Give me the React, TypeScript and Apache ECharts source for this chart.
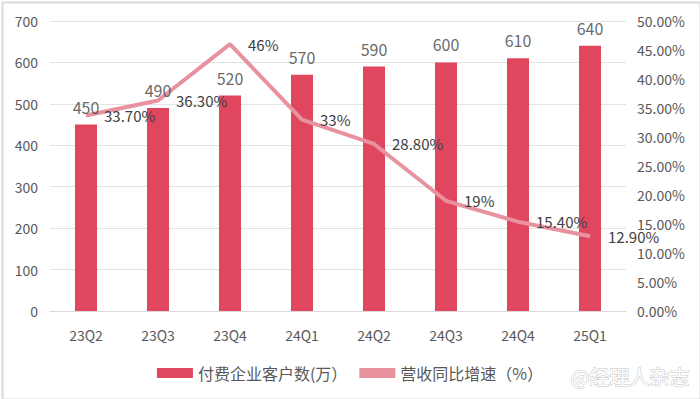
import React, { useEffect, useRef } from "react";
import * as echarts from "echarts";

const categories = ["23Q2", "23Q3", "23Q4", "24Q1", "24Q2", "24Q3", "24Q4", "25Q1"];
const customers = [450, 490, 520, 570, 590, 600, 610, 640];
const growth = [33.7, 36.3, 46, 33, 28.8, 19, 15.4, 12.9];
const barName = "付费企业客户数(万）";
const lineName = "营收同比增速（%）";

const FONT = "'Noto Sans CJK SC', 'Noto Sans', sans-serif";
const GRAY = "#595959";

export default function App() {
  const ref = useRef<HTMLDivElement>(null);
  useEffect(() => {
    const chart = echarts.init(ref.current!, null, { renderer: "svg" });
    chart.setOption({
      animation: false,
      backgroundColor: "#ffffff",
      textStyle: { fontFamily: FONT },
      grid: { left: 50, right: 74, top: 21, bottom: 88 },
      legend: {
        bottom: 13,
        left: "center",
        itemGap: 12,
        textStyle: { fontSize: 16, color: GRAY, fontFamily: FONT },
        data: [
          { name: barName, icon: "rect", itemWidth: 36, itemHeight: 10 },
          { name: lineName, icon: "rect", itemWidth: 38, itemHeight: 4 },
        ],
        itemWidth: 36,
        itemHeight: 10,
      },
      xAxis: {
        type: "category",
        data: categories,
        axisLine: { lineStyle: { color: "#d9d9d9", width: 1 } },
        axisTick: { show: false },
        axisLabel: { color: GRAY, fontSize: 14, margin: 17, fontFamily: FONT },
      },
      yAxis: [
        {
          type: "value",
          min: 0,
          max: 700,
          interval: 100,
          axisLine: { show: false },
          axisTick: { show: false },
          axisLabel: { color: GRAY, fontSize: 14, margin: 12, fontFamily: FONT },
          splitLine: { lineStyle: { color: "#e3e3e3", width: 1 } },
        },
        {
          type: "value",
          min: 0,
          max: 50,
          interval: 5,
          position: "right",
          axisLine: { show: false },
          axisTick: { show: false },
          splitLine: { show: false },
          axisLabel: {
            color: GRAY,
            fontSize: 14,
            margin: 11,
            fontFamily: FONT,
            formatter: (v: number) => v.toFixed(2) + "%",
          },
        },
      ],
      series: [
        {
          name: barName,
          type: "bar",
          data: customers,
          barWidth: 22,
          z: 2,
          itemStyle: { color: "#e0475e" },
        },
        {
          name: lineName,
          type: "line",
          yAxisIndex: 1,
          data: growth,
          z: 3,
          showSymbol: true,
          symbol: "circle",
          symbolSize: 0,
          lineStyle: { color: "#e8929f", width: 4 },
          itemStyle: { color: "#e8929f" },
          label: {
            show: true,
            position: "right",
            distance: 18,
            color: "#404040",
            fontSize: 15,
            fontFamily: FONT,
            formatter: (p: any) =>
              Number.isInteger(p.value) ? p.value + "%" : p.value.toFixed(2) + "%",
          },
        },
        {
          name: "barLabels",
          type: "scatter",
          yAxisIndex: 0,
          data: customers,
          z: 4,
          symbolSize: 0,
          itemStyle: { color: "transparent" },
          label: {
            show: true,
            position: "top",
            distance: 10,
            color: "#404040",
            fontSize: 16,
            fontFamily: FONT,
          },
          silent: true,
        },
      ],
      graphic: [
        {
          type: "rect",
          left: 0,
          top: 0,
          shape: { width: 698, height: 397 },
          style: { fill: "none", stroke: "#d9d9d9", lineWidth: 2 },
          silent: true,
        },
        {
          type: "text",
          right: 10,
          bottom: 12,
          style: {
            text: "@经理人杂志",
            fill: "#ffffff",
            stroke: "#c4c4c4",
            lineWidth: 1,
            fontSize: 20,
            fontFamily: FONT,
          },
          silent: true,
        },
      ],
    });
    return () => chart.dispose();
  }, []);
  return (
    <div
      ref={ref}
      style={{ position: "absolute", left: 0, top: 0, width: 700, height: 399 }}
    />
  );
}
